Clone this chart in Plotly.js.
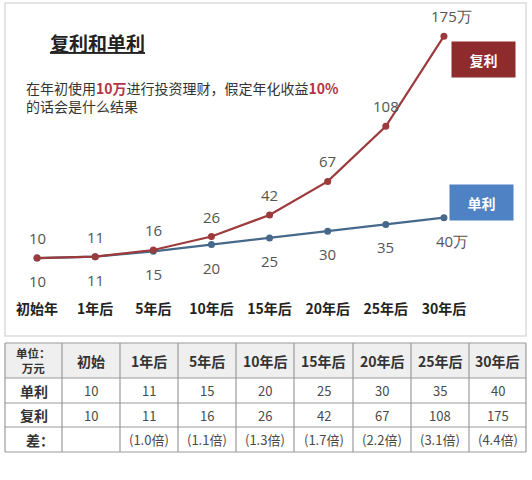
<!DOCTYPE html>
<html><head><meta charset="utf-8">
<script src="https://cdn.plot.ly/plotly-3.0.1.min.js"></script>
<style>html,body{margin:0;padding:0;background:#fff;}#chart{width:532px;height:480px;}</style>
</head><body><div id="chart"></div>
<script>
const categories = ['初始年','1年后','5年后','10年后','15年后','20年后','25年后','30年后'];
const simpleValues = [10,11,15,20,25,30,35,40];
const compoundValues = [10,11,16,26,42,67,108,175];
const simpleLabels = ['10','11','15','20','25','30','35','40万'];
const compoundLabels = ['10','11','16','26','42','67','108','175万'];
const tableHeader = ['单位：<br>万元','初始','1年后','5年后','10年后','15年后','20年后','25年后','30年后'];
const rowNames = ['单利','复利','差：'];
const diffLabels = ['','(1.0倍)','(1.1倍)','(1.3倍)','(1.7倍)','(2.2倍)','(3.1倍)','(4.4倍)'];

const W = 532, H = 480;
const CJK = '"Noto Sans CJK SC", "Noto Sans", sans-serif';
const redLine = '#9c3a3c', blueLine = '#46688a';
const px = v => v / W, py = v => 1 - v / H;

const traces = [
  {type:'scatter', mode:'lines+markers', x:categories, y:simpleValues, name:'单利',
   line:{color:blueLine, width:2.2}, marker:{color:blueLine, size:7}, hoverinfo:'skip'},
  {type:'scatter', mode:'lines+markers', x:categories, y:compoundValues, name:'复利',
   line:{color:redLine, width:2.2}, marker:{color:redLine, size:7}, hoverinfo:'skip'}
];

const annotations = [];
const shapes = [{type:'rect', xref:'paper', yref:'paper', x0:px(5), x1:px(526), y0:py(336), y1:py(3),
           line:{color:'#dcdcdc', width:1.5}, fillcolor:'rgba(0,0,0,0)', layer:'below'}];

categories.forEach((c, i) => {
  const last = i === categories.length - 1;
  annotations.push({x:c, y:compoundValues[i], xref:'x', yref:'y', text:compoundLabels[i], showarrow:false,
    yshift:20, xshift: last ? 8 : 0, font:{family:'"Open Sans", sans-serif', size:15, color:'#555'}});
  annotations.push({x:c, y:simpleValues[i], xref:'x', yref:'y', text:simpleLabels[i], showarrow:false,
    yshift:-23, xshift: last ? 8 : 0, font:{family:'"Open Sans", sans-serif', size:15, color:'#555'}});
});
annotations.push({xref:'paper', yref:'paper', x:px(48), y:py(42), xanchor:'left', yanchor:'middle',
  text:'<b><u>复利和单利</u></b>', showarrow:false, font:{family:CJK, size:19, color:'#222'}});
annotations.push({xref:'paper', yref:'paper', x:px(24), y:py(76), xanchor:'left', yanchor:'top', align:'left',
  text:'在年初使用<b><span style="color:#b5334a">10万</span></b>进行投资理财，假定年化收益<b><span style="color:#b5334a">10%</span></b><br>的话会是什么结果',
  showarrow:false, font:{family:CJK, size:14, color:'#333'}});
annotations.push({xref:'paper', yref:'paper', x:px(483.5), y:py(59.5), xanchor:'center', yanchor:'middle',
  text:'<b>复利</b>', showarrow:false, bgcolor:'#8e2b2d', width:59, height:31, borderpad:2,
  font:{family:CJK, size:14, color:'#fff'}});
annotations.push({xref:'paper', yref:'paper', x:px(481.5), y:py(202.5), xanchor:'center', yanchor:'middle',
  text:'<b>单利</b>', showarrow:false, bgcolor:'#4f82c4', width:59, height:31, borderpad:2,
  font:{family:CJK, size:14, color:'#fff'}});

// ---- table grid (layout geometry) ----
const colX = [5,62,120,178,236,294,353,411,469,526];
const rowY = [343,378,403,427,452];
shapes.push({type:'rect', xref:'paper', yref:'paper', x0:px(colX[0]), x1:px(colX[colX.length-1]),
  y0:py(rowY[1]), y1:py(rowY[0]), fillcolor:'#efefef', line:{width:0}, layer:'below'});
rowY.forEach(y => shapes.push({type:'line', xref:'paper', yref:'paper', x0:px(colX[0]), x1:px(colX[colX.length-1]),
  y0:py(y), y1:py(y), line:{color:'#9a9a9a', width:1.2}}));
colX.forEach(x => shapes.push({type:'line', xref:'paper', yref:'paper', x0:px(x), x1:px(x),
  y0:py(rowY[rowY.length-1]), y1:py(rowY[0]), line:{color:'#9a9a9a', width:1.2}}));

const colC = colX.slice(0, -1).map((x, i) => (x + colX[i+1]) / 2);
const rowC = rowY.slice(0, -1).map((y, i) => (y + rowY[i+1]) / 2);
tableHeader.forEach((h, j) => annotations.push({xref:'paper', yref:'paper', x:px(colC[j]), y:py(rowC[0]),
  xanchor:'center', yanchor:'middle', text:'<b>' + h + '</b>', showarrow:false,
  font:{family:CJK, size: j === 0 ? 11.5 : 14, color:'#333'}}));
rowNames.forEach((n, r) => {
  const right = r === rowNames.length - 1;
  annotations.push({xref:'paper', yref:'paper', x:px(right ? 56 : colC[0]), y:py(rowC[r+1]),
    xanchor: right ? 'right' : 'center', yanchor:'middle', text:'<b>' + n + '</b>', showarrow:false,
    font:{family:CJK, size:14, color:'#333'}});
});
const tableRows = [simpleValues.map(String), compoundValues.map(String), diffLabels];
tableRows.forEach((row, r) => row.forEach((v, j) => {
  if (v === '') return;
  annotations.push({xref:'paper', yref:'paper', x:px(colC[j+1]), y:py(rowC[r+1]),
    xanchor:'center', yanchor:'middle', text:v, showarrow:false,
    font:{family:CJK, size:13, color:'#4a4a4a'}});
}));

const layout = {
  width:W, height:H, margin:{l:0, r:0, t:0, b:0}, showlegend:false,
  paper_bgcolor:'#fff', plot_bgcolor:'rgba(0,0,0,0)',
  xaxis:{domain:[px(8), px(473)], type:'category', range:[-0.5, 7.5], showgrid:false, zeroline:false,
         showline:false, ticks:'', ticklabelstandoff:27,
         tickfont:{family:CJK, size:14, color:'#222', weight:'bold'}, fixedrange:true},
  yaxis:{domain:[py(271.5), py(2.5)], range:[0, 200], visible:false, fixedrange:true},
  shapes: shapes,
  annotations: annotations
};

Plotly.newPlot('chart', traces, layout, {displayModeBar:false, staticPlot:true});
</script></body></html>
